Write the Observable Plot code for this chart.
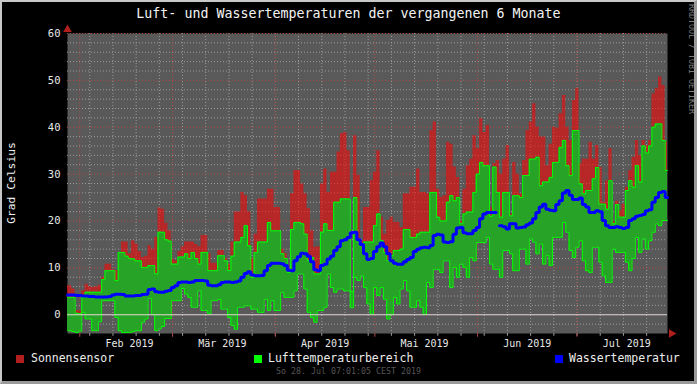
<!DOCTYPE html>
<html><head><meta charset="utf-8">
<script src="https://cdn.jsdelivr.net/npm/d3@7"></script>
<script src="https://cdn.jsdelivr.net/npm/@observablehq/plot@0.6"></script>
<style>
html,body{margin:0;padding:0;background:#000;}
#chart{position:relative;width:697px;height:384px;background:#000;overflow:hidden;font-family:"DejaVu Sans Mono",monospace;}
#chart svg{position:absolute;left:0;top:0;}
#border{position:absolute;left:0;top:0;width:697px;height:384px;box-sizing:border-box;border-top:2px solid #c8c8c8;border-left:2px solid #c8c8c8;border-right:3px solid #9a9a9a;border-bottom:3px solid #9a9a9a;pointer-events:none;}
.t{position:absolute;white-space:nowrap;}
#title{top:5px;left:0;width:697px;text-align:center;font-size:13.3px;line-height:18px;color:#f4f4f4;}
#ylab{left:11px;top:183px;font-size:11.3px;color:#f0f0f0;transform:translate(-50%,-50%) rotate(-90deg);}
.lg{top:351px;font-size:11.5px;line-height:14px;color:#ececec;}
.sq{position:absolute;top:355px;width:8px;height:8px;}
#stamp{top:366px;left:0;width:697px;text-align:center;font-size:8.3px;line-height:11px;color:#555;}
#rrd{left:687px;top:4px;font-size:8.3px;color:#7a7a7a;writing-mode:vertical-rl;}
</style></head>
<body>
<div id="chart">
  <div class="t" id="title">Luft- und Wassertemperaturen der vergangenen 6 Monate</div>
  <div class="t" id="ylab">Grad Celsius</div>
  <div class="sq" style="left:16px;background:#b01e1e"></div>
  <div class="t lg" style="left:31px">Sonnensensor</div>
  <div class="sq" style="left:254px;background:#00ff00"></div>
  <div class="t lg" style="left:268px">Lufttemperaturbereich</div>
  <div class="sq" style="left:555px;background:#0000ff"></div>
  <div class="t lg" style="left:569px">Wassertemperatur</div>
  <div class="t" id="stamp">So 28. Jul 07:01:05 CEST 2019</div>
  <div class="t" id="rrd">RRDTOOL / TOBI OETIKER</div>
  <div id="border"></div>
</div>
<script>
// Daily values, 28 Jan 2019 -> 28 Jul 2019 (181 days)
const sun = [
6.2,5.5,0.9,0.8,5.1,6.5,6.0,5.8,6.0,6.3,
8.0,10.8,10.8,9.6,9.4,13.3,15.5,15.5,13.0,15.8,
15.1,13.5,12.2,12.5,14.7,14.0,16.5,22.8,22.5,19.5,
17.9,11.8,11.5,13.5,14.5,15.5,15.5,15.5,15.0,14.5,
16.9,16.9,13.0,11.0,11.0,13.7,13.7,12.0,10.8,15.5,
21.9,21.9,26.1,25.4,22.0,12.0,17.2,24.7,24.7,24.7,
26.8,26.8,22.9,22.9,14.0,13.0,9.5,25.8,30.8,30.8,
27.9,25.8,22.6,17.9,14.4,14.5,27.9,31.1,26.1,30.4,
30.4,34.7,38.6,38.9,35.0,5.0,38.2,29.7,15.8,22.9,
22.9,28.6,30.4,35.0,20.8,17.2,20.1,20.8,19.7,19.7,
18.6,25.8,25.8,27.2,27.2,31.1,26.1,26.1,25.8,39.3,
41.1,26.8,25.0,25.4,36.8,36.4,31.5,29.3,20.0,26.8,
31.8,33.2,38.2,35.4,41.8,38.9,40.4,22.9,32.2,32.9,
30.0,33.2,36.1,21.5,32.5,30.0,25.8,32.9,39.3,41.1,
45.0,40.0,37.9,37.9,31.8,36.4,40.0,39.7,42.9,46.8,
40.0,37.2,45.7,48.2,32.2,33.2,33.2,36.8,33.2,36.1,
31.4,24.0,28.6,35.4,19.8,24.2,22.2,23.6,27.2,30.8,
33.6,37.2,34.0,37.2,36.1,37.2,47.1,48.2,50.7,48.9,
36.8];
const airMax = [
3.7,3.7,0.3,0.2,3.7,4.8,4.8,4.8,4.8,4.8,
7.5,9.4,9.4,9.4,7.3,13.3,13.3,12.5,12.0,11.9,
11.5,11.5,10.1,10.1,10.5,10.5,8.7,17.6,17.6,16.0,
15.7,10.8,10.8,12.3,12.3,13.0,12.0,13.3,12.0,10.8,
13.3,13.3,9.4,9.4,9.4,12.6,12.6,11.5,9.4,12.5,
15.5,15.5,16.5,19.0,14.7,8.0,13.3,15.5,15.5,15.5,
19.7,17.9,17.9,17.9,13.0,12.0,9.0,18.2,19.7,19.7,
19.4,17.2,11.5,12.2,8.7,8.7,17.6,19.4,18.0,18.0,
24.0,24.0,24.7,24.7,24.7,5.0,25.0,15.5,15.1,15.5,
15.5,15.5,19.0,21.5,15.8,13.3,11.5,12.6,13.7,13.7,
14.0,18.2,18.2,16.5,16.5,17.2,17.6,17.6,17.6,26.1,
26.1,20.8,20.0,20.0,24.0,25.4,24.3,25.0,19.4,21.5,
21.9,21.9,26.1,30.0,32.5,31.8,31.8,21.0,31.5,26.1,
20.8,26.1,26.1,21.1,25.4,25.4,25.0,29.7,29.7,33.2,
33.2,33.6,27.5,28.3,28.3,29.3,32.5,32.5,35.7,37.2,
31.8,29.7,39.3,39.3,27.9,25.8,26.5,26.5,29.0,31.4,
23.6,23.6,22.5,28.6,19.4,23.5,20.8,20.8,26.5,28.6,
27.2,31.8,28.3,36.0,34.5,36.0,40.0,40.7,40.7,37.2,
30.8];
const airMin = [
-3.4,-3.6,-3.8,-3.5,0.5,-0.9,-0.9,-3.4,-3.4,-1.5,
3.0,3.0,3.0,3.0,-0.6,-3.4,-3.8,-3.8,-3.8,-3.6,
-3.4,-3.4,-1.6,-0.9,3.5,0.0,-3.4,-3.0,-2.5,-0.8,
-0.8,3.0,3.0,3.0,5.6,4.4,3.7,1.6,1.6,5.1,
0.9,0.9,0.2,3.0,3.0,3.3,1.2,1.2,-0.6,-2.3,
-3.1,1.6,1.6,1.9,1.9,1.2,1.2,0.5,0.5,3.3,
0.9,3.0,0.9,0.9,4.8,3.7,3.7,3.7,5.1,8.7,
8.7,5.5,0.5,-0.6,-1.6,0.9,0.9,1.6,8.7,5.8,
4.8,5.5,5.5,5.1,5.1,1.5,8.0,7.3,8.3,5.8,
2.3,0.1,5.8,4.1,5.8,3.3,-0.9,0.1,3.7,2.3,
5.5,7.3,5.1,1.6,1.6,3.0,1.6,0.1,6.9,5.8,
9.7,9.7,9.0,11.5,11.5,5.8,10.1,8.0,10.8,10.1,
8.0,12.2,11.5,15.4,15.4,15.4,16.5,10.8,9.7,9.7,
8.0,13.7,13.7,13.0,9.4,9.4,14.0,14.0,10.8,16.2,
15.5,13.0,15.1,10.8,12.6,10.5,16.5,16.5,16.5,19.7,
17.6,13.7,12.2,14.4,15.8,11.5,9.4,9.0,14.4,14.4,
11.2,8.3,6.9,6.9,14.0,13.3,13.3,13.3,11.2,9.4,
12.0,16.5,13.3,16.2,14.0,15.8,17.6,19.4,19.0,20.1,
20.1];
const water = [
4.2,4.2,4.1,4.1,4.0,4.0,3.9,3.9,3.8,3.8,
3.8,3.8,3.9,4.2,4.4,4.4,4.3,4.0,4.0,4.0,
4.1,4.1,4.3,4.4,5.4,5.5,4.9,4.8,4.8,5.0,
5.2,5.8,6.2,6.9,7.0,7.0,6.9,7.0,7.3,7.3,
7.3,7.2,6.3,6.2,6.2,6.4,6.9,7.0,7.0,6.9,
7.0,7.2,8.0,8.8,9.2,8.5,8.3,8.3,8.4,9.4,
10.5,11.0,11.0,11.0,10.9,10.5,9.5,9.4,11.5,12.4,
13.1,13.0,12.5,11.3,9.6,9.4,10.5,10.8,11.9,12.5,
13.7,14.5,15.8,16.0,16.5,17.5,17.6,16.0,15.0,13.0,
11.8,12.0,13.5,14.5,15.3,14.5,13.0,11.5,11.0,10.8,
10.8,11.3,11.8,12.2,13.5,14.0,14.3,14.4,14.3,14.8,
16.9,17.2,17.0,15.5,15.4,15.6,17.2,18.5,18.6,17.5,
17.3,17.3,18.0,18.6,20.5,21.5,21.8,21.8,21.8,null,
19.0,18.8,18.3,19.4,19.4,18.5,18.6,18.7,19.2,19.6,
20.5,21.8,23.0,23.6,22.5,22.3,22.2,23.5,24.3,26.0,
26.5,25.5,24.6,24.6,24.9,23.5,23.0,21.8,21.8,22.2,
22.0,20.1,19.0,18.6,18.6,18.8,18.6,18.4,18.6,20.1,
20.5,21.0,21.2,21.4,22.2,22.4,24.0,25.0,26.1,26.3,
25.0];
const yTicks = [0, 10, 20, 30, 40, 50, 60];
const monthLabels = ["Feb 2019", "Mär 2019", "Apr 2019", "Mai 2019", "Jun 2019", "Jul 2019"];

const DAY = 864e5;
const t0 = Date.UTC(2019, 0, 28, 7, 1);
const t1 = Date.UTC(2019, 6, 28, 7, 1);
const offset = 0.3;
const rows = [];
for (let d = 0; d < sun.length; d++) {
  const a = d === 0 ? t0 : t0 + (d + offset) * DAY;
  const b = Math.min(t0 + (d + 1 + offset) * DAY, t1);
  for (const t of [a, b]) rows.push({t: new Date(t), sun: sun[d], max: airMax[d], min: airMin[d], water: water[d]});
}
const months = d3.utcMonth.range(new Date(t0), new Date(t1));
const weeks = d3.utcMonday.range(new Date(t0), new Date(t1));
const labelData = months.map((m, i) => ({t: new Date(+m + 15 * DAY), label: monthLabels[i]}));
const minorY = d3.range(-2, 60, 2).filter(v => v % 10 !== 0);
const majorY = yTicks.filter(v => v !== 0);
const grid = "#9c9c9c", mgrid = "#b04848";

const chart = Plot.plot({
  width: 697, height: 384,
  marginTop: 33, marginLeft: 67, marginRight: 30, marginBottom: 51,
  style: {background: "transparent", color: "#e8e8e8", fontFamily: "DejaVu Sans Mono, monospace"},
  x: {type: "utc", domain: [new Date(t0), new Date(t1)], axis: null},
  y: {domain: [-4, 60], axis: null},
  marks: [
    Plot.frame({fill: "#595959"}),
    Plot.ruleY(minorY, {stroke: grid, strokeDasharray: "1,2"}),
    Plot.ruleX(weeks, {stroke: grid, strokeDasharray: "1,2"}),
    Plot.ruleY(majorY, {stroke: mgrid, strokeDasharray: "1,2"}),
    Plot.ruleX(months, {stroke: mgrid, strokeDasharray: "1,2"}),
    Plot.ruleX(weeks, {y1: -4, y2: -4.6, stroke: grid}),
    Plot.ruleX(months, {y1: -4, y2: -4.8, stroke: mgrid}),
    Plot.areaY(rows, {x: "t", y1: "max", y2: "sun", fill: "#ff0000", fillOpacity: 0.56}),
    Plot.areaY(rows, {x: "t", y1: "min", y2: "max", fill: "#27a327"}),
    Plot.lineY(rows, {x: "t", y: "max", stroke: "#00ff00", strokeWidth: 1}),
    Plot.lineY(rows, {x: "t", y: "min", stroke: "#00ff00", strokeWidth: 1}),
    Plot.ruleY([0], {stroke: "#e6d4d4"}),
    Plot.lineY(rows, {x: "t", y: "water", stroke: "#0000ff", strokeWidth: 3, strokeLinejoin: "miter"}),
    Plot.axisY({ticks: yTicks, tickSize: 0, tickPadding: 7, fontSize: 10.5, label: null}),
    Plot.text(labelData, {x: "t", y: () => -4, text: "label", dy: 10, fontSize: 10, fill: "#e8e8e8"}),
    Plot.dot([0], {x: () => new Date(t0), y: () => 60, symbol: "triangle", r: 3.2, fill: "#b01e1e", stroke: null, dy: -4}),
    Plot.dot([0], {x: () => new Date(t1), y: () => -4, symbol: "triangle", rotate: 90, r: 3.2, fill: "#b01e1e", stroke: null, dx: 4})
  ]
});
const host = document.getElementById("chart");
host.insertBefore(chart, host.firstChild);
</script>
</body></html>
